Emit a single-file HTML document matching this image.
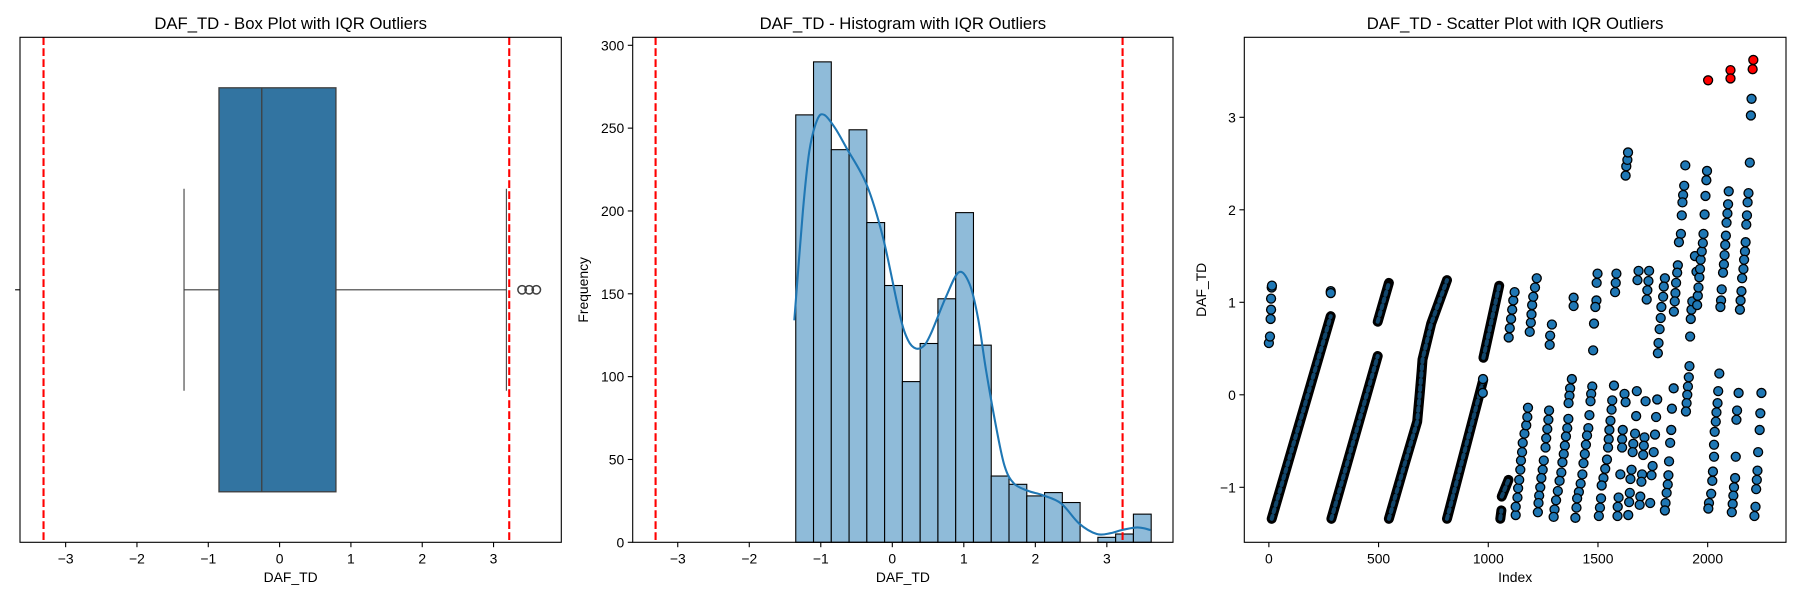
<!DOCTYPE html>
<html><head><meta charset="utf-8"><title>DAF_TD IQR Outliers</title>
<style>
html,body{margin:0;padding:0;background:#fff;}
svg{display:block;font-family:"Liberation Sans","DejaVu Sans",sans-serif;}
</style></head>
<body>
<svg id="fig" width="1800" height="600" viewBox="0 0 1800 600" xmlns="http://www.w3.org/2000/svg"></svg>
<script>
// ---------- data ----------
const xTicks = [-3, -2, -1, 0, 1, 2, 3];
const iqrBounds = [-3.31, 3.22];
const boxStats = [-1.34, -0.85, -0.25, 0.79, 3.18]; // whisker low, q1, median, q3, whisker high
const boxOutliers = [3.40, 3.50, 3.60];

const histStart = -1.35;
const histBinWidth = 0.2485;
const histCounts = [258, 290, 237, 249, 193, 155, 97, 120, 147, 199, 119, 40, 35, 28, 30, 24, 0, 3, 5, 17];
const histYTicks = [0, 50, 100, 150, 200, 250, 300];
const kdeX = [-1.37, -1.25, -1.16, -1.05, -0.95, -0.80, -0.64, -0.36, -0.13, 0.10, 0.22, 0.33, 0.45, 0.56, 0.75, 0.93, 1.08, 1.20, 1.31, 1.45, 1.57, 1.70, 1.90, 2.10, 2.36, 2.61, 2.86, 3.05, 3.21, 3.43, 3.61];
const kdeY = [134, 200, 236, 255, 258, 250, 238, 216, 184, 138, 122, 117, 119, 128, 148, 163, 156, 135, 104, 70, 46, 35.5, 31, 28.5, 23.5, 11.4, 5.0, 5.5, 7.4, 9.0, 7.4];

const scatterXTicks = [0, 500, 1000, 1500, 2000];
const scatterYTicks = [-1, 0, 1, 2, 3];
// dense runs of consecutive points
const stripeIdx = [[13, 282], [285, 496], [496, 547], [547, 620, 676, 688, 696, 700, 740, 812], [812, 977], [978, 1050], [1055, 1060], [1061, 1092]];
const stripeVal = [[-1.34, 0.85], [-1.34, 0.42], [0.79, 1.21], [-1.34, -0.74, -0.29, 0.02, 0.25, 0.38, 0.77, 1.24], [-1.34, 0.16], [0.40, 1.18], [-1.34, -1.25], [-1.10, -0.92]];
const scatterPoints = [
[0,0.56],[5,0.63],[8,0.82],[10,0.92],[10,1.04],[13,1.16],[14,1.18],[282,1.12],[282,1.10],[976,0.17],[975,0.02],
[1125,-1.30],[1125,-1.21],[1133,-1.11],[1136,-1.01],[1141,-0.92],[1146,-0.81],[1149,-0.71],[1154,-0.62],[1157,-0.52],[1165,-0.42],[1173,-0.33],[1178,-0.24],[1181,-0.14],
[1093,0.62],[1098,0.72],[1104,0.82],[1109,0.92],[1114,1.02],[1120,1.11],
[1189,0.68],[1194,0.78],[1197,0.87],[1200,0.97],[1205,1.06],[1213,1.16],[1221,1.26],
[1277,-0.17],[1274,-0.27],[1269,-0.37],[1264,-0.47],[1261,-0.57],[1253,-0.71],[1248,-0.81],[1242,-0.90],[1237,-1.00],[1232,-1.09],[1229,-1.17],[1226,-1.27],
[1280,0.54],[1282,0.64],[1290,0.76],
[1381,0.17],[1373,0.07],[1370,-0.01],[1366,-0.09],[1365,-0.26],[1360,-0.36],[1354,-0.45],[1349,-0.55],[1344,-0.64],[1338,-0.73],[1333,-0.84],[1325,-0.93],[1317,-1.04],[1309,-1.14],[1302,-1.24],[1298,-1.32],
[1389,1.05],[1389,0.96],
[1474,0.09],[1469,0.01],[1466,-0.07],[1461,-0.22],[1456,-0.36],[1450,-0.44],[1445,-0.54],[1440,-0.64],[1434,-0.74],[1429,-0.86],[1421,-0.96],[1413,-1.05],[1405,-1.12],[1402,-1.22],[1397,-1.33],
[1498,1.31],[1494,1.21],[1493,1.02],[1488,0.95],[1482,0.77],[1478,0.48],
[1573,0.10],[1565,-0.06],[1562,-0.16],[1557,-0.28],[1552,-0.38],[1549,-0.48],[1546,-0.57],[1541,-0.70],[1533,-0.80],[1525,-0.90],[1517,-0.98],[1514,-1.12],[1509,-1.22],[1504,-1.31],
[1594,-1.11],[1590,-1.21],[1589,-1.31],[1602,-0.86],[1610,-0.48],[1610,-0.57],[1613,-0.38],[1621,0.01],[1626,-0.08],
[1584,1.31],[1581,1.21],[1578,1.11],
[1626,2.37],[1629,2.47],[1634,2.54],[1637,2.62],
[1677,0.04],[1674,-0.23],[1669,-0.42],[1661,-0.53],[1658,-0.62],[1653,-0.81],[1648,-0.91],[1645,-1.06],[1642,-1.16],[1638,-1.30],
[1717,-0.07],[1712,-0.46],[1709,-0.55],[1706,-0.65],[1701,-0.86],[1698,-0.94],[1693,-1.10],[1690,-1.19],
[1685,1.34],[1680,1.24],[1733,1.34],[1730,1.23],[1725,1.13],[1722,1.03],
[1770,-0.05],[1765,-0.24],[1760,-0.43],[1754,-0.62],[1749,-0.77],[1744,-0.87],[1738,-1.17],
[1805,1.26],[1800,1.17],[1797,1.06],[1789,0.95],[1786,0.83],[1781,0.71],[1776,0.56],[1773,0.45],
[1845,0.07],[1837,-0.15],[1834,-0.38],[1829,-0.52],[1824,-0.72],[1821,-0.87],[1818,-0.97],[1813,-1.06],[1808,-1.17],[1805,-1.25],
[1898,2.48],[1893,2.26],[1888,2.16],[1885,2.08],[1882,1.94],[1878,1.74],[1869,1.65],[1864,1.40],[1861,1.32],[1856,1.21],[1853,1.10],[1850,1.01],[1846,0.90],
[1917,0.31],[1914,0.19],[1910,0.09],[1907,0.00],[1904,-0.09],[1901,-0.18],
[1923,0.82],[1920,0.63],[1926,0.92],[1930,1.01],[1942,1.50],[1949,1.33],
[1952,0.97],[1955,1.07],[1958,1.16],[1962,1.27],[1965,1.36],[1968,1.46],[1973,1.55],[1978,1.64],[1981,1.74],[1986,1.95],[1990,2.15],[1994,2.32],[1997,2.42],
[2053,0.23],[2048,0.04],[2045,-0.09],[2040,-0.19],[2037,-0.29],[2032,-0.40],[2029,-0.54],[2029,-0.67],[2024,-0.83],[2021,-0.93],[2016,-1.07],[2006,-1.17],[2003,-1.23],
[2096,2.20],[2093,2.06],[2090,1.96],[2086,1.86],[2083,1.72],[2080,1.62],[2077,1.51],[2074,1.41],[2070,1.32],[2064,1.14],[2061,1.02],[2058,0.95],
[2141,0.02],[2134,-0.17],[2131,-0.27],[2128,-0.67],[2125,-0.90],[2120,-1.00],[2117,-1.09],[2114,-1.18],[2110,-1.27],
[2200,3.20],[2197,3.02],[2192,2.51],[2186,2.18],[2182,2.08],[2179,1.94],[2176,1.84],[2173,1.65],[2170,1.55],[2166,1.46],[2163,1.36],[2157,1.26],[2154,1.12],[2150,1.02],[2147,0.92],
[2245,0.02],[2240,-0.20],[2237,-0.38],[2230,-0.62],[2227,-0.82],[2224,-0.92],[2221,-1.02],[2218,-1.21],[2213,-1.31]
];
const outlierIdx = [2002, 2104, 2104, 2208, 2205];
const outlierVal = [3.40, 3.51, 3.42, 3.62, 3.52];

// ---------- helpers ----------
const NS = "http://www.w3.org/2000/svg";
const svg = document.getElementById('fig');
function el(tag, attrs, parent) {
  const e = document.createElementNS(NS, tag);
  for (const k in attrs) e.setAttribute(k, attrs[k]);
  (parent || svg).appendChild(e);
  return e;
}
function txt(s, attrs, parent) { const t = el('text', attrs, parent); t.textContent = s; return t; }
function lin(d0, d1, p0, p1) { return v => p0 + (v - d0) / (d1 - d0) * (p1 - p0); }
const fmt = v => (v < 0 ? '\u2212' + Math.abs(v) : String(v));
function smoothPath(pts) {
  let d = 'M' + pts[0][0].toFixed(1) + ',' + pts[0][1].toFixed(1);
  for (let i = 0; i < pts.length - 1; i++) {
    const p0 = pts[Math.max(0, i - 1)], p1 = pts[i], p2 = pts[i + 1], p3 = pts[Math.min(pts.length - 1, i + 2)];
    const c1x = p1[0] + (p2[0] - p0[0]) / 6, c1y = p1[1] + (p2[1] - p0[1]) / 6;
    const c2x = p2[0] - (p3[0] - p1[0]) / 6, c2y = p2[1] - (p3[1] - p1[1]) / 6;
    d += ` C${c1x.toFixed(1)},${c1y.toFixed(1)} ${c2x.toFixed(1)},${c2y.toFixed(1)} ${p2[0].toFixed(1)},${p2[1].toFixed(1)}`;
  }
  return d;
}

const TOP = 37.3, BOT = 542.3;

function frame(g, L, R) {
  const r = el('rect', {x: L, y: TOP, width: R - L, height: BOT - TOP, fill: 'none', stroke: '#000', 'stroke-width': 1.1}, g);
  
  
}
function title(g, s, cx) {
  const t = txt(s, {x: cx, y: 29, 'text-anchor': 'middle', 'font-size': 16.7, fill: '#000'}, g);
  
  
}
function xAxis(g, ticks, X, label, cx) {
  ticks.forEach(v => {
    const x = X(v);
    const tk = el('line', {x1: x, x2: x, y1: BOT, y2: BOT + 4.9, stroke: '#000', 'stroke-width': 1.1}, g);
    
    
    const tl = txt(fmt(v), {x: x, y: BOT + 21, 'text-anchor': 'middle', 'font-size': 13.9, fill: '#000'}, g);
    
    
  });
  const xl = txt(label, {x: cx, y: 582, 'text-anchor': 'middle', 'font-size': 13.9, fill: '#000'}, g);
  
  
}
function yAxis(g, ticks, Y, L, label, lx) {
  ticks.forEach(v => {
    const y = Y(v);
    const tk = el('line', {x1: L - 4.9, x2: L, y1: y, y2: y, stroke: '#000', 'stroke-width': 1.1}, g);
    
    
    const tl = txt(fmt(v), {x: L - 8.5, y: y + 5, 'text-anchor': 'end', 'font-size': 13.9, fill: '#000'}, g);
    
    
  });
  if (label) {
    const yl = txt(label, {x: lx, y: (TOP + BOT) / 2, 'text-anchor': 'middle', 'font-size': 13.9, fill: '#000', transform: `rotate(-90 ${lx} ${(TOP + BOT) / 2})`}, g);
    
    
  }
}
function iqrLines(g, X) {
  iqrBounds.forEach(v => {
    const l = el('line', {x1: X(v), x2: X(v), y1: TOP, y2: BOT, stroke: '#ff0000', 'stroke-width': 2.1, 'stroke-dasharray': '7.7,3.3'}, g);
    
    
  });
}

// ---------- Panel 1: box plot ----------
(function () {
  const L = 20, R = 561.3;
  const g = el('g', {});
  
  
  const X = lin(-3.64, 3.95, L, R);
  const cy = (TOP + BOT) / 2, hb = 202, hc = 101;
  const [wl, q1, med, q3, wh] = boxStats;
  const c = '#3f3f3f';
  const w1 = el('line', {x1: X(wl), x2: X(q1), y1: cy, y2: cy, stroke: c, 'stroke-width': 1.1}, g);
  
  
  const w2 = el('line', {x1: X(q3), x2: X(wh), y1: cy, y2: cy, stroke: c, 'stroke-width': 1.1}, g);
  
  
  const c1 = el('line', {x1: X(wl), x2: X(wl), y1: cy - hc, y2: cy + hc, stroke: c, 'stroke-width': 1.1}, g);
  
  
  const c2 = el('line', {x1: X(wh), x2: X(wh), y1: cy - hc, y2: cy + hc, stroke: c, 'stroke-width': 1.1}, g);
  
  
  const box = el('rect', {x: X(q1), y: cy - hb, width: X(q3) - X(q1), height: 2 * hb, fill: '#3274a1', stroke: c, 'stroke-width': 1.3}, g);
  
  
  const m = el('line', {x1: X(med), x2: X(med), y1: cy - hb, y2: cy + hb, stroke: c, 'stroke-width': 1.3}, g);
  
  
  boxOutliers.forEach(v => {
    const o = el('circle', {cx: X(v), cy: cy, r: 4.2, fill: 'none', stroke: c, 'stroke-width': 1.5}, g);
    
    
  });
  iqrLines(g, X);
  frame(g, L, R);
  const tk = el('line', {x1: L - 4.9, x2: L, y1: cy, y2: cy, stroke: '#000', 'stroke-width': 1.1}, g);
  
  
  xAxis(g, xTicks, X, 'DAF_TD', (L + R) / 2);
  title(g, 'DAF_TD - Box Plot with IQR Outliers', (L + R) / 2);
})();

// ---------- Panel 2: histogram ----------
(function () {
  const L = 632.7, R = 1173;
  const g = el('g', {});
  
  
  const X = lin(-3.63, 3.925, L, R);
  const Y = lin(0, 300, BOT, 45.3);
  histCounts.forEach((n, i) => {
    const x0 = X(histStart + i * histBinWidth), x1 = X(histStart + (i + 1) * histBinWidth);
    if (n <= 0) return;
    const b = el('rect', {x: x0, y: Y(n), width: x1 - x0, height: BOT - Y(n), fill: '#8fbbd9', stroke: '#000', 'stroke-width': 1.1}, g);
    
    
  });
  const pts = kdeX.map((v, i) => [X(v), Y(kdeY[i])]);
  const k = el('path', {d: smoothPath(pts), fill: 'none', stroke: '#1f77b4', 'stroke-width': 2.1, 'stroke-linejoin': 'round'}, g);
  
  
  iqrLines(g, X);
  frame(g, L, R);
  xAxis(g, xTicks, X, 'DAF_TD', (L + R) / 2);
  yAxis(g, histYTicks, Y, L, 'Frequency', 588);
  title(g, 'DAF_TD - Histogram with IQR Outliers', (L + R) / 2);
})();

// ---------- Panel 3: scatter ----------
(function () {
  const L = 1244.3, R = 1786;
  const g = el('g', {});
  
  
  const X = lin(-112, 2357, L, R);
  const Y = lin(0, 3, 394.8, 117.3);
  stripeIdx.forEach((arr, s) => {
    let d = '';
    arr.forEach((v, i) => { d += (i ? ' L' : 'M') + X(v).toFixed(1) + ',' + Y(stripeVal[s][i]).toFixed(1); });
    const p1 = el('path', {d: d, fill: 'none', stroke: '#000', 'stroke-width': 10, 'stroke-linecap': 'round', 'stroke-linejoin': 'round'}, g);
    
    
    const p2 = el('path', {d: d, fill: 'none', stroke: '#1f77b4', 'stroke-width': 4, 'stroke-opacity': 0.6, 'stroke-dasharray': '3,4', 'stroke-linecap': 'round'}, g);
    
    
  });
  scatterPoints.forEach(p => {
    const c = el('circle', {cx: X(p[0]), cy: Y(p[1]), r: 4.5, fill: '#1f77b4', stroke: '#000', 'stroke-width': 1.3}, g);
    
    
  });
  outlierIdx.forEach((v, i) => {
    const c = el('circle', {cx: X(v), cy: Y(outlierVal[i]), r: 4.5, fill: '#ff0000', stroke: '#000', 'stroke-width': 1.3}, g);
    
    
  });
  frame(g, L, R);
  xAxis(g, scatterXTicks, X, 'Index', (L + R) / 2);
  yAxis(g, scatterYTicks, Y, L, 'DAF_TD', 1206);
  title(g, 'DAF_TD - Scatter Plot with IQR Outliers', (L + R) / 2);
})();
</script>
</body></html>
